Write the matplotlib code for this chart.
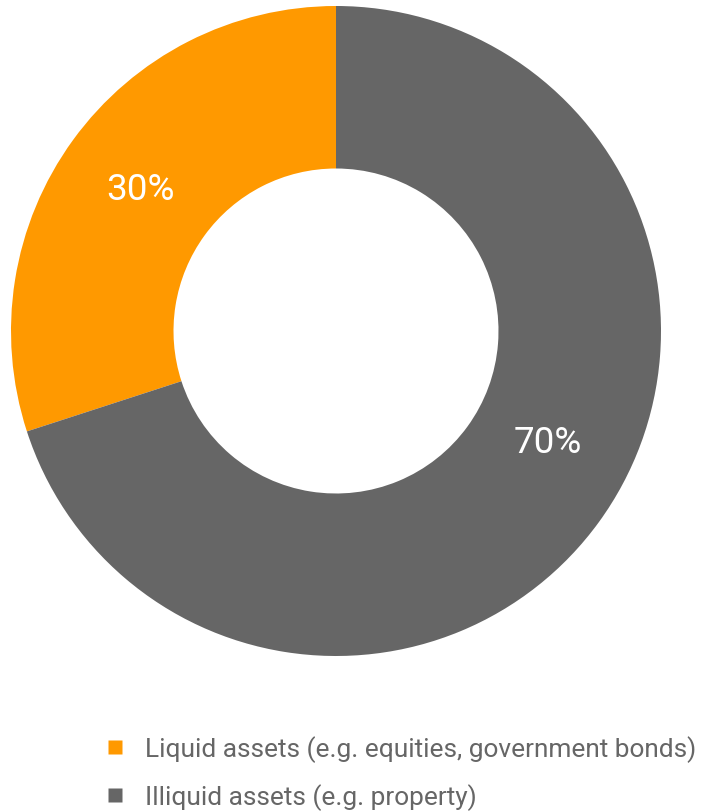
import matplotlib
matplotlib.use("Agg")
import matplotlib.pyplot as plt
from matplotlib.lines import Line2D
import numpy as np

categories = ["Liquid assets (e.g. equities, government bonds)", "Illiquid assets (e.g. property)"]
values = [30, 70]
labels = ["30%", "70%"]
colors = ["#FF9900", "#666666"]

plt.rcParams['font.family'] = ['Roboto', 'DejaVu Sans']

W, H = 703, 812
fig = plt.figure(figsize=(W/100, H/100), dpi=100)
cx, cy, R = 336, 332, 325
ax = fig.add_axes([(cx-R)/W, (H-cy-R)/H, 2*R/W, 2*R/H])
wedges, _ = ax.pie(values, colors=colors, startangle=90, counterclock=True,
                   radius=1.0, wedgeprops=dict(width=0.5, edgecolor='none'))
ax.set_xlim(-1, 1); ax.set_ylim(-1, 1)
ax.set_aspect('equal')
ax.axis('off')

# label positions (radius fraction, angle in degrees)
label_pos = [(0.745, 144), (0.735, -27.7)]
for lab, (r, a) in zip(labels, label_pos):
    ax.text(r*np.cos(np.radians(a)), r*np.sin(np.radians(a)), lab, color='white',
            fontsize=26.5, fontweight='normal', ha='center', va='center')

handles = [Line2D([], [], marker='s', linestyle='none', markersize=10,
                  markerfacecolor=c, markeredgecolor='none') for c in colors]
leg = fig.legend(handles, categories, loc='upper left', bbox_to_anchor=(102/W, 1-736/H),
                 frameon=False, fontsize=18.9, labelcolor='#666666', handletextpad=0.65,
                 labelspacing=0.82, handlelength=1.0, borderaxespad=0, borderpad=0)

fig.savefig("out.png", dpi=100)
